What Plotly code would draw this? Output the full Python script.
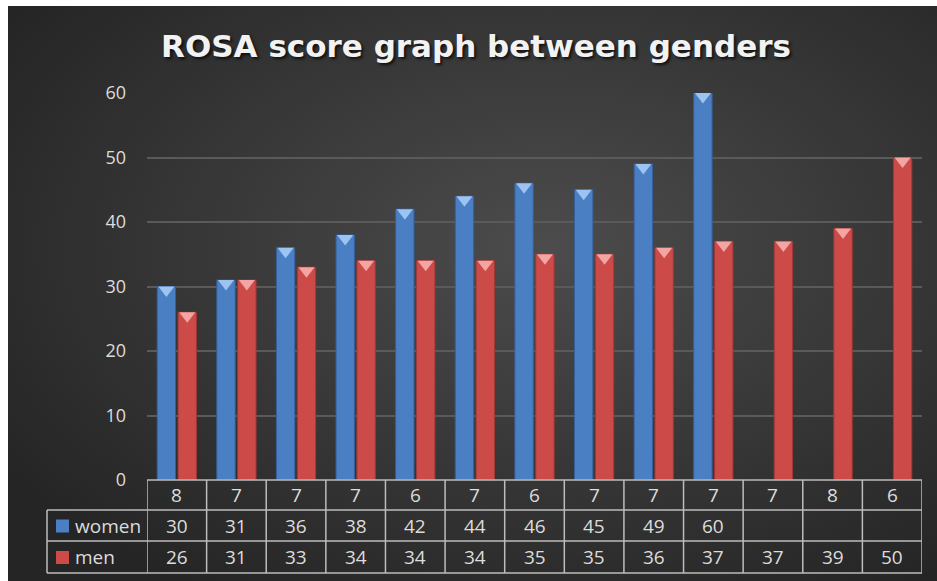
import plotly.graph_objects as go

# ---- data ----
categories = ["8", "7", "7", "7", "6", "7", "6", "7", "7", "7", "7", "8", "6"]
women = [30, 31, 36, 38, 42, 44, 46, 45, 49, 60, None, None, None]
men = [26, 31, 33, 34, 34, 34, 35, 35, 36, 37, 37, 39, 50]
y_ticks = [0, 10, 20, 30, 40, 50, 60]
series_names = ["women", "men"]

# ---- style ----
W, H = 937, 581
L, R, T, B = 147, 15, 93, 101
plot_w = W - L - R
plot_h = H - T - B
BLUE = "#4a7fc4"
BLUE_CAP = "#9cc3f2"
RED = "#cc4a48"
RED_CAP = "#f2a5a3"
TXT = "#dcdcdc"
LINE = "#bdbdbd"
CAP_SIZE = 14
CAP_DROP = 0.55  # data units so cap's flat edge sits on bar top
TABLE_FONT = dict(size=19, color=TXT, family="Open Sans")


def py(pixel_y):
    return (H - B - pixel_y) / plot_h


def px(pixel_x):
    return (pixel_x - L) / plot_w


xs = list(range(len(categories)))

fig = go.Figure()
fig.add_trace(go.Bar(x=xs, y=women, name=series_names[0], marker=dict(color=BLUE, line=dict(color="#36609c", width=1))))
fig.add_trace(go.Bar(x=xs, y=men, name=series_names[1], marker=dict(color=RED, line=dict(color="#a03836", width=1))))

# bevel caps on top of bars
fig.add_trace(go.Scatter(x=xs, y=[None if v is None else v - CAP_DROP for v in women], mode="markers",
                         marker=dict(symbol="triangle-down", size=CAP_SIZE, color=BLUE_CAP, line=dict(width=0)),
                         hoverinfo="skip", showlegend=False))
fig.add_trace(go.Scatter(x=xs, y=[v - CAP_DROP for v in men], mode="markers",
                         marker=dict(symbol="triangle-down", size=CAP_SIZE, color=RED_CAP, line=dict(width=0)),
                         hoverinfo="skip", showlegend=False))

# background (radial gradient) covering the chart area
svg = ("data:image/svg+xml;utf8,<svg xmlns='http://www.w3.org/2000/svg' width='100' height='100' preserveAspectRatio='none'>"
       "<defs><radialGradient id='g' cx='58%25' cy='42%25' r='70%25'>"
       "<stop offset='0%25' stop-color='%234c4c4c'/><stop offset='100%25' stop-color='%23252525'/>"
       "</radialGradient></defs><rect width='100' height='100' fill='url(%23g)'/></svg>")
bg_x0, bg_x1 = px(8), px(W)
bg_y0, bg_y1 = py(6), py(H)
fig.add_layout_image(dict(source=svg, xref="paper", yref="paper", x=bg_x0, y=bg_y0,
                          sizex=bg_x1 - bg_x0, sizey=bg_y0 - bg_y1, sizing="stretch",
                          xanchor="left", yanchor="top", layer="below"))

# ---- data table below the plot ----
row_edges = [480, 510, 541, 573]
shapes = []
shapes.append(dict(type="line", xref="paper", yref="paper", x0=0, x1=1, y0=py(row_edges[0]), y1=py(row_edges[0]),
                   line=dict(color=LINE, width=1.5)))
for ye in row_edges[1:]:
    shapes.append(dict(type="line", xref="paper", yref="paper", x0=px(47), x1=1, y0=py(ye), y1=py(ye),
                       line=dict(color=LINE, width=1.5)))
for i in range(len(categories) + 1):
    shapes.append(dict(type="line", xref="x", yref="paper", x0=i - 0.5, x1=i - 0.5,
                       y0=py(row_edges[0]), y1=py(row_edges[-1]), line=dict(color=LINE, width=1.5)))
shapes.append(dict(type="line", xref="paper", yref="paper", x0=px(47), x1=px(47),
                   y0=py(row_edges[1]), y1=py(row_edges[-1]), line=dict(color=LINE, width=1.5)))
for k, col in enumerate([BLUE, RED]):
    yc = (row_edges[k + 1] + row_edges[k + 2]) / 2
    shapes.append(dict(type="rect", xref="paper", yref="paper", x0=px(56), x1=px(69),
                       y0=py(yc - 6), y1=py(yc + 7), fillcolor=col, line=dict(width=0)))

annotations = []
for k, (name, vals) in enumerate(zip(series_names, [women, men])):
    yc = py((row_edges[k + 1] + row_edges[k + 2]) / 2)
    annotations.append(dict(text=name, xref="paper", yref="paper", x=px(73), y=yc, xanchor="left",
                            yanchor="middle", showarrow=False, font=TABLE_FONT))
    for i, v in enumerate(vals):
        if v is None:
            continue
        annotations.append(dict(text=str(v), xref="x", yref="paper", x=i, y=yc, xanchor="center",
                                yanchor="middle", showarrow=False, font=TABLE_FONT))
for i, c in enumerate(categories):
    annotations.append(dict(text=c, xref="x", yref="paper", x=i, y=py((row_edges[0] + row_edges[1]) / 2),
                            xanchor="center", yanchor="middle", showarrow=False, font=TABLE_FONT))

fig.update_layout(
    width=W, height=H,
    margin=dict(l=L, r=R, t=T, b=B, pad=0),
    paper_bgcolor="white",
    plot_bgcolor="rgba(0,0,0,0)",
    barmode="group", bargap=0.30, bargroupgap=0.12,
    scattermode="group", scattergap=0.30,
    showlegend=False,
    title=dict(text="<b>ROSA score graph between genders</b>", x=0.508, xref="container", xanchor="center",
               y=1 - 46 / H, yref="container", yanchor="middle",
               font=dict(size=31, color="#f2f2f2", family="DejaVu Sans", shadow="2px 2px 3px rgba(0,0,0,0.7)")),
    xaxis=dict(range=[-0.5, len(categories) - 0.5], showticklabels=False, showgrid=False, zeroline=False,
               ticks="", fixedrange=True),
    yaxis=dict(range=[0, 60], tickvals=y_ticks, showgrid=True, gridcolor="#5a5a5a", gridwidth=1.5,
               zeroline=False, ticks="", ticklabelstandoff=20,
               tickfont=dict(size=18, color=TXT, family="Open Sans")),
    shapes=shapes,
    annotations=annotations,
)

fig.write_html("out.html", post_script="document.body.style.margin='0';",
               config={"displayModeBar": False})
